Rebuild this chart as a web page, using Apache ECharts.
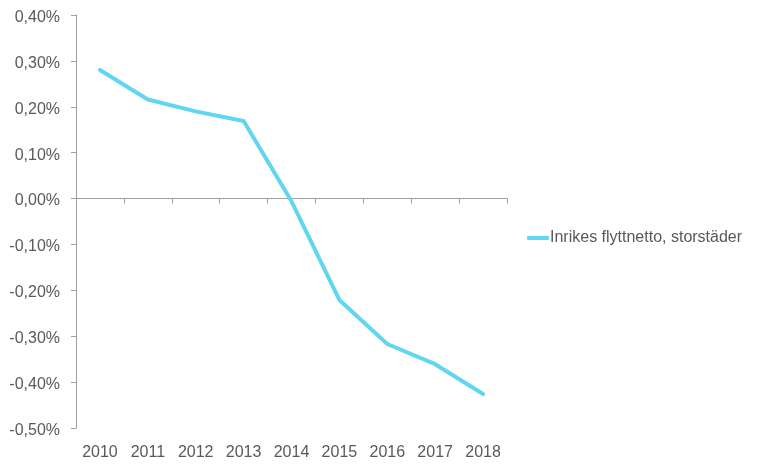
<!DOCTYPE html>
<html>
<head>
<meta charset="utf-8">
<script src="https://cdn.jsdelivr.net/npm/echarts@6/dist/echarts.min.js"></script>
<style>html,body{margin:0;padding:0;background:#fff;}#c{width:766px;height:466px;}</style>
</head>
<body>
<div id="c"></div>
<script>
var categories = ['2010','2011','2012','2013','2014','2015','2016','2017','2018'];
var seriesName = 'Inrikes flyttnetto, storstäder';
var values = [0.280, 0.216, 0.190, 0.169, -0.006, -0.221, -0.317, -0.361, -0.426];
var yMin = -0.5, yMax = 0.4, yStep = 0.1;

var fmt = function (v) {
  var s = Math.abs(v).toFixed(2).replace('.', ',') + '%';
  return '{a|' + (v < -1e-9 ? '-' : '') + s + '}';
};
var axisColor = '#a0a0a0';
var textColor = '#595959';
var font = 'Liberation Sans, Arial, sans-serif';

var chart = echarts.init(document.getElementById('c'), null, {renderer: 'canvas'});
chart.setOption({
  animation: false,
  backgroundColor: '#fff',
  grid: {left: 76, right: 259, top: 15, bottom: 38, containLabel: false},
  legend: {
    data: [seriesName],
    left: 527, top: 230,
    padding: 0,
    icon: 'roundRect',
    itemWidth: 22, itemHeight: 4,
    textStyle: {color: textColor, fontSize: 16, fontFamily: font, padding: [0, 0, 0, -4]}
  },
  xAxis: [{
    type: 'category',
    data: categories,
    boundaryGap: true,
    position: 'bottom',
    axisLine: {show: true, onZero: true, lineStyle: {color: axisColor, width: 1}},
    axisTick: {show: true, length: 5, lineStyle: {color: axisColor}},
    axisLabel: {show: false},
    splitLine: {show: false}
  }, {
    type: 'category',
    data: categories,
    boundaryGap: true,
    position: 'bottom',
    axisLine: {show: false, onZero: false},
    axisTick: {show: false},
    axisLabel: {show: true, color: textColor, fontSize: 16, fontFamily: font, margin: 17},
    splitLine: {show: false}
  }],
  yAxis: {
    type: 'value',
    min: yMin, max: yMax, interval: yStep,
    axisLine: {show: true, lineStyle: {color: axisColor, width: 1}},
    axisTick: {show: true, length: 5, lineStyle: {color: axisColor}},
    axisLabel: {
      color: textColor, fontSize: 16, fontFamily: font, margin: 16, formatter: fmt,
      rich: {a: {color: textColor, fontSize: 16, fontFamily: font, padding: [5, 0, 0, 0]}}
    },
    splitLine: {show: false}
  },
  series: [{
    name: seriesName,
    type: 'line',
    xAxisIndex: 0,
    data: values,
    symbol: 'none',
    lineStyle: {color: '#62d5f0', width: 4, cap: 'round', join: 'round'},
    itemStyle: {color: '#62d5f0'}
  }]
});
</script>
</body>
</html>
